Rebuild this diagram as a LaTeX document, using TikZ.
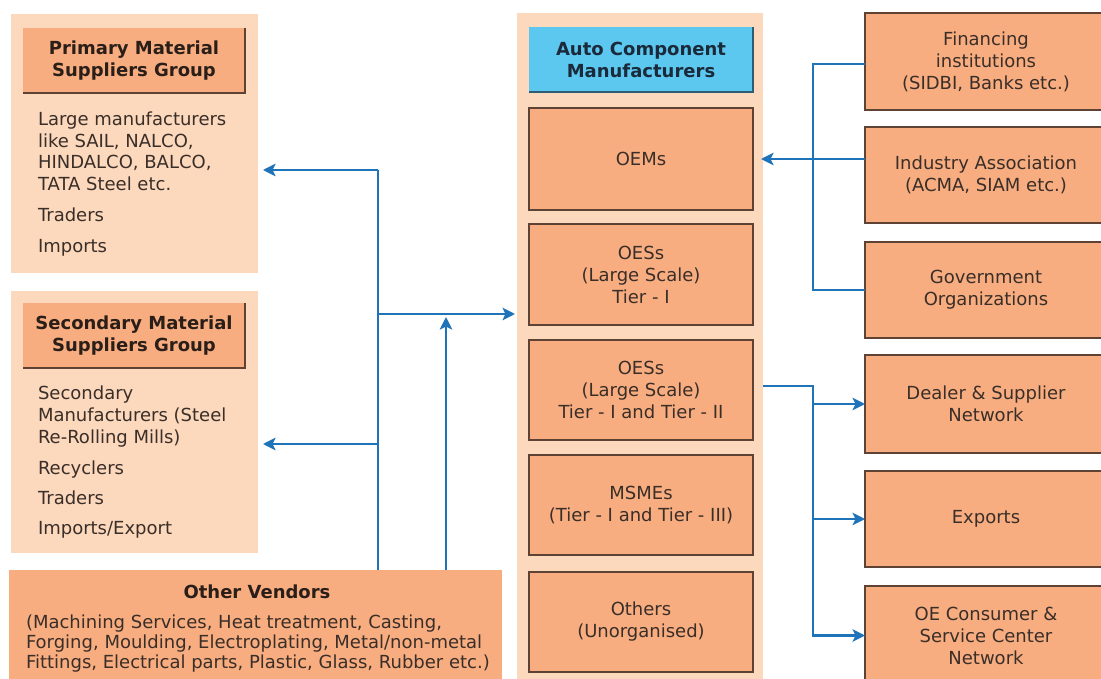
\documentclass[tikz,border=0pt]{standalone}
\usepackage{fontspec}
\setmainfont{DejaVu Sans}
\usetikzlibrary{arrows.meta}

\definecolor{panel}{HTML}{FCD8BD}
\definecolor{boxfill}{HTML}{F7AD80}
\definecolor{edge}{HTML}{5E4334}
\definecolor{headblue}{HTML}{5CC7EF}
\definecolor{headedge}{HTML}{2E5C74}
\definecolor{flowblue}{HTML}{1F73B9}
\definecolor{ink}{HTML}{3A2E28}
\definecolor{inkdark}{HTML}{2A1E18}
\definecolor{inknavy}{HTML}{1B2A3A}

\tikzset{
  every node/.style={inner sep=0pt, outer sep=0pt},
  txt/.style={font=\fontsize{18}{22}\selectfont, text=ink, align=center},
  boldtxt/.style={font=\fontsize{18}{22}\selectfont\bfseries, text=inkdark, align=center},
  panelbox/.style={fill=panel, minimum width=247pt},
  headbox/.style={fill=boxfill, minimum width=222pt, minimum height=65pt, boldtxt},
  unitbox/.style={fill=boxfill, draw=edge, line width=2pt, minimum width=224pt, txt},
  sidebox/.style={fill=boxfill, draw=edge, line width=2pt, minimum width=242pt, txt},
  flow/.style={draw=flowblue, line width=2.5pt},
  flowarrow/.style={flow, -{Stealth[length=12.5pt,width=12.5pt,inset=3pt]}},
  shadowedge/.style={draw=edge, line width=2.5pt},
}

\begin{document}
\begin{tikzpicture}[x=1pt, y=-1pt]
\useasboundingbox (0,0) rectangle (1101,679);
\clip (0,0) rectangle (1101,679);
\fill[white] (0,0) rectangle (1101,679);

% ---------- left: supplier groups ----------
\node[panelbox, minimum height=259pt] (pripanel) at (134.5,143.5) {};
\node[headbox] (prihead) at (134,60.5) {Primary Material\\Suppliers Group};
\draw[shadowedge] (prihead.north east) -- (prihead.south east) -- (prihead.south west);
\foreach \t/\yy [count=\i] in {{Large manufacturers}/126, {like SAIL, NALCO,}/148,
    {HINDALCO, BALCO,}/169, {TATA Steel etc.}/191, {Traders}/222, {Imports}/253}
  \node[txt, anchor=base west] (pl\i) at (38,\yy) {\t};

\node[panelbox, minimum height=262pt] (secpanel) at (134.5,422) {};
\node[headbox] (sechead) at (134,335.5) {Secondary Material\\Suppliers Group};
\draw[shadowedge] (sechead.north east) -- (sechead.south east) -- (sechead.south west);
\foreach \t/\yy [count=\i] in {{Secondary}/399, {Manufacturers (Steel}/421,
    {Re-Rolling Mills)}/443, {Recyclers}/474, {Traders}/504, {Imports/Export}/534}
  \node[txt, anchor=base west] (sl\i) at (38,\yy) {\t};

% ---------- other vendors ----------
\node[fill=boxfill, minimum width=493pt, minimum height=115pt] (vendors) at (255.5,627.5) {};
\node[boldtxt, anchor=base] (vtitle) at (257,598) {Other Vendors};
\foreach \t/\yy [count=\i] in {{(Machining Services, Heat treatment, Casting,}/628,
    {Forging, Moulding, Electroplating, Metal/non-metal}/648,
    {Fittings, Electrical parts, Plastic, Glass, Rubber etc.)}/668}
  \node[txt, anchor=base west] (vl\i) at (26,\yy) {\t};

% ---------- centre: auto component manufacturers ----------
\node[panelbox, minimum width=246pt, minimum height=677pt] (autopanel) at (640,351.5) {};
\node[fill=headblue, minimum width=224pt, minimum height=65pt, boldtxt, text=inknavy]
  (autohead) at (641,59.5) {Auto Component\\Manufacturers};
\draw[draw=headedge, line width=2.5pt] (autohead.north east) -- (autohead.south east) -- (autohead.south west);
\node[unitbox, minimum height=102pt] (oem)    at (641,159)   {OEMs};
\node[unitbox, minimum height=101pt] (oes1)   at (641,274.5) {OESs\\(Large Scale)\\Tier - I};
\node[unitbox, minimum height=100pt] (oes2)   at (641,390)   {OESs\\(Large Scale)\\Tier - I and Tier - II};
\node[unitbox, minimum height=100pt] (msme)   at (641,505)   {MSMEs\\(Tier - I and Tier - III)};
\node[unitbox, minimum height=100pt] (others) at (641,622)   {Others\\(Unorganised)};

% ---------- right: support and market ----------
\node[sidebox, minimum height=97pt] (fin)     at (986,61.5)  {Financing\\institutions\\(SIDBI, Banks etc.)};
\node[sidebox, minimum height=96pt] (ind)     at (986,175)   {Industry Association\\(ACMA, SIAM etc.)};
\node[sidebox, minimum height=96pt] (gov)     at (986,290)   {Government\\Organizations};
\node[sidebox, minimum height=98pt] (dealer)  at (986,404)   {Dealer \& Supplier\\Network};
\node[sidebox, minimum height=96pt] (exports) at (986,519)   {Exports};
\node[sidebox, minimum height=99pt] (oecons)  at (986,635.5) {OE Consumer \&\\Service Center\\Network};

% ---------- junctions ----------
\coordinate (jA) at (378,170);
\coordinate (jB) at (378,444);
\coordinate (jC) at (378,314);
\coordinate (jD) at (446,317);
\coordinate (jE) at (813,64);
\coordinate (jF) at (813,386);

% ---------- connectors: left ----------
\draw[flow] (vendors.north -| jA) -- (jA);
\draw[flowarrow, shorten >=5pt] (jA) -- (jA -| pripanel.east);
\draw[flowarrow, shorten >=5pt] (jB) -- (jB -| secpanel.east);
\draw[flowarrow, shorten >=2pt] (jC) -- (jC -| autopanel.west);
\draw[flowarrow] (vendors.north -| jD) -- (jD);

% ---------- connectors: right ----------
\draw[flow] (jE -| fin.west) -- (jE) |- (gov.west);
\draw[flowarrow, shorten >=-2pt] (oem.east -| ind.west) -- (oem.east -| autopanel.east);
\draw[flowarrow] (jF -| autopanel.east) -- (jF) |- (oecons.west);
\draw[flowarrow] (jF |- dealer.west) -- (dealer.west);
\draw[flowarrow] (jF |- exports.west) -- (exports.west);
\end{tikzpicture}
\end{document}
